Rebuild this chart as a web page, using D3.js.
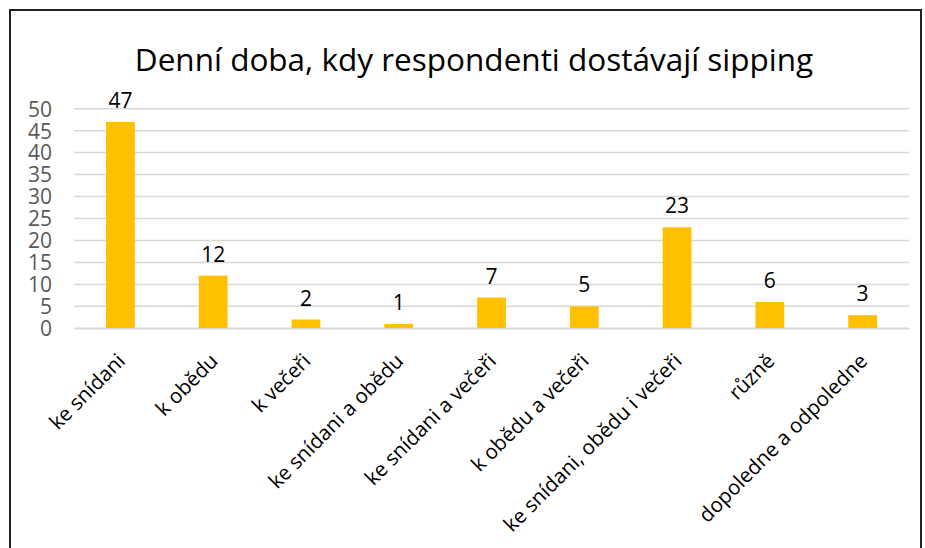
<!DOCTYPE html>
<html>
<head>
<meta charset="utf-8">
<script src="https://cdn.jsdelivr.net/npm/d3@7"></script>
<style>
	body { margin: 0; background: #fff; }
	svg { display: block; font-family: 'Open Sans', sans-serif; }
</style>
</head>
<body>
<div class="svg-container"></div>
<script>
const w = 925;
const h = 548;

const categories = [
	'ke snídani',
	'k obědu',
	'k večeři',
	'ke snídani a obědu',
	'ke snídani a večeři',
	'k obědu a večeři',
	'ke snídani, obědu i večeři',
	'různě',
	'dopoledne a odpoledne',
];
const values = [47, 12, 2, 1, 7, 5, 23, 6, 3];
const yTicks = [0, 5, 10, 15, 20, 25, 30, 35, 40, 45, 50];

const margin = {left: 74, right: 16, top: 108.7, bottom: 219.7};

const svg = d3
	.select('.svg-container')
	.append('svg')
	.attr('width', w)
	.attr('height', h)
	.style('background-color', '#fff');

// frame around the chart
svg
	.append('rect')
	.attr('x', 10)
	.attr('y', 10)
	.attr('width', 911)
	.attr('height', 560)
	.attr('fill', 'none')
	.attr('stroke', '#222')
	.attr('stroke-width', 2);

svg
	.append('text')
	.attr('x', 474)
	.attr('y', 71)
	.style('text-anchor', 'middle')
	.style('font-size', '31.5px')
	.attr('fill', '#000')
	.text('Denní doba, kdy respondenti dostávají sipping');

const xScale = d3
	.scaleBand()
	.domain(categories)
	.range([margin.left, w - margin.right])
	.paddingInner(0.69)
	.paddingOuter(0.345);

const yScale = d3
	.scaleLinear()
	.domain([0, 50])
	.range([h - margin.bottom, margin.top]);

// gridlines
svg
	.append('g')
	.selectAll('line')
	.data(yTicks)
	.enter()
	.append('line')
	.attr('x1', margin.left)
	.attr('x2', w - margin.right)
	.attr('y1', d => yScale(d))
	.attr('y2', d => yScale(d))
	.attr('stroke', '#d9d9d9')
	.attr('stroke-width', 1.5);

const yAxis = d3.axisLeft(yScale).tickValues(yTicks).tickSize(0).tickPadding(0);

svg
	.append('g')
	.attr('transform', 'translate(52, 0)')
	.call(yAxis)
	.call(g => g.select('.domain').remove())
	.selectAll('text')
	.attr('fill', '#595959')
	.attr('dy', '0.35em')
	.style('font-size', '21px')
	.style('font-family', 'Open Sans');

svg
	.selectAll('rect.bar')
	.data(values)
	.enter()
	.append('rect')
	.attr('class', 'bar')
	.attr('x', (d, i) => xScale(categories[i]))
	.attr('y', d => yScale(d))
	.attr('width', xScale.bandwidth())
	.attr('height', d => yScale(0) - yScale(d))
	.attr('fill', '#ffc000');

svg
	.selectAll('text.value')
	.data(values)
	.enter()
	.append('text')
	.attr('class', 'value')
	.attr('x', (d, i) => xScale(categories[i]) + xScale.bandwidth() / 2)
	.attr('y', d => yScale(d) - 14)
	.style('text-anchor', 'middle')
	.style('font-size', '21px')
	.attr('fill', '#000')
	.text(d => d);

const xAxis = d3.axisBottom(xScale).tickSize(0).tickPadding(0);

const xg = svg
	.append('g')
	.attr('transform', `translate(0, ${yScale(0)})`)
	.call(xAxis);

xg.select('.domain').attr('stroke', '#d9d9d9').attr('stroke-width', 1.5);

xg
	.selectAll('text')
	.attr('y', 0)
	.attr('dy', 0)
	.attr('transform', 'translate(6, 34) rotate(-45)')
	.style('text-anchor', 'end')
	.style('font-size', '20.5px')
	.style('font-family', 'Open Sans')
	.attr('fill', '#000');
</script>
</body>
</html>
